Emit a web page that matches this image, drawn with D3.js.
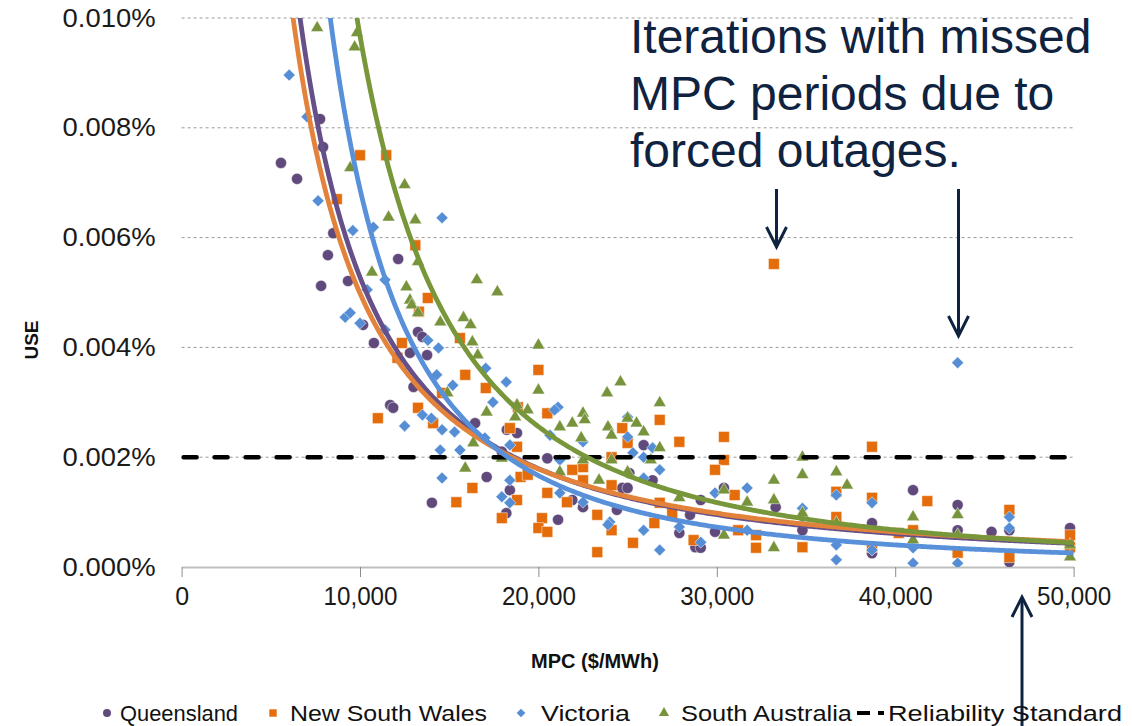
<!DOCTYPE html>
<html>
<head>
<meta charset="utf-8">
<script src="https://cdn.jsdelivr.net/npm/d3@7/dist/d3.min.js"></script>
<style>
  html, body { margin: 0; padding: 0; background: #ffffff; }
  svg { display: block; }
  text { font-family: Arial, "Liberation Sans", sans-serif; }
</style>
</head>
<body>
<svg id="chart" width="1132" height="726"></svg>
<script>
// MPC in $/MWh, USE in percent of energy
const qldMPC = [5570, 6470, 7760, 7930, 8500, 8200, 7820, 9330, 12140, 10170, 10780, 13250, 13500, 12800, 13760, 11690, 11860, 13000, 14030, 16450, 18230, 18800, 17100, 18400, 18200, 17950, 20500, 21100, 21900, 22500, 24700, 25000, 24400, 20500, 25900, 26400, 25100, 27900, 28800, 29100, 29100, 28500, 29900, 30400, 33300, 34800, 38700, 38700, 41000, 43500, 43500, 45400, 46400, 46400, 49800];
const qldUSE = [0.00736, 0.00707, 0.00816, 0.00765, 0.00608, 0.00568, 0.00512, 0.00521, 0.00561, 0.00441, 0.00408, 0.00428, 0.00419, 0.00390, 0.00386, 0.00295, 0.00290, 0.00328, 0.00117, 0.00262, 0.00250, 0.00244, 0.00164, 0.00140, 0.00098, 0.00210, 0.00198, 0.00086, 0.00122, 0.00109, 0.00144, 0.00144, 0.00104, 0.00280, 0.00222, 0.00158, 0.00171, 0.00062, 0.00036, 0.00035, 0.00122, 0.00095, 0.00064, 0.00144, 0.00109, 0.00067, 0.00080, 0.00025, 0.00140, 0.00113, 0.00067, 0.00064, 0.00067, 0.00009, 0.00071];

const nswMPC = [10000, 11470, 8700, 13100, 13800, 13300, 12350, 12100, 11000, 13250, 14100, 14600, 15600, 15900, 17050, 20000, 20500, 18850, 18400, 18800, 16300, 15400, 19000, 19400, 18800, 17950, 20200, 20000, 20500, 20500, 21600, 22500, 22500, 23300, 23300, 24100, 24100, 24100, 24700, 25000, 25300, 21900, 26800, 27900, 30400, 30400, 29900, 31000, 26800, 26500, 27500, 28700, 31200, 32200, 32200, 34800, 36700, 36700, 38700, 38700, 38700, 40200, 41000, 41800, 43500, 46400, 46400, 49800, 49800, 33200];
const nswUSE = [0.00750, 0.00750, 0.00670, 0.00586, 0.00490, 0.00465, 0.00408, 0.00381, 0.00271, 0.00290, 0.00262, 0.00317, 0.00417, 0.00350, 0.00326, 0.00359, 0.00280, 0.00291, 0.00253, 0.00219, 0.00144, 0.00118, 0.00164, 0.00168, 0.00122, 0.00089, 0.00089, 0.00071, 0.00064, 0.00135, 0.00118, 0.00182, 0.00158, 0.00095, 0.00027, 0.00149, 0.00067, 0.00200, 0.00253, 0.00226, 0.00044, 0.00177, 0.00268, 0.00228, 0.00237, 0.00195, 0.00177, 0.00131, 0.00117, 0.00080, 0.00098, 0.00049, 0.00067, 0.00058, 0.00035, 0.00036, 0.00137, 0.00091, 0.00219, 0.00126, 0.00036, 0.00062, 0.00067, 0.00120, 0.00026, 0.00104, 0.00018, 0.00058, 0.00036, 0.00552];

const vicMPC = [6030, 7030, 7650, 9600, 10750, 14600, 11400, 9170, 9450, 10000, 10400, 14400, 13800, 14300, 12500, 13500, 14000, 14600, 14500, 14600, 17050, 15200, 18200, 17450, 21100, 20900, 25000, 15300, 17000, 18400, 15600, 18400, 17950, 18400, 20650, 21200, 21200, 22500, 22500, 24000, 23900, 25000, 25300, 25900, 26400, 26800, 25900, 25900, 26800, 27900, 29100, 29900, 31700, 31700, 34800, 34800, 36700, 36700, 36700, 38700, 38700, 41000, 41000, 43500, 46400, 46400, 11400, 43500];
const vicUSE = [0.00896, 0.00820, 0.00667, 0.00613, 0.00619, 0.00636, 0.00523, 0.00455, 0.00463, 0.00444, 0.00505, 0.00399, 0.00413, 0.00350, 0.00257, 0.00277, 0.00271, 0.00250, 0.00213, 0.00162, 0.00362, 0.00331, 0.00337, 0.00300, 0.00291, 0.00286, 0.00273, 0.00246, 0.00235, 0.00222, 0.00213, 0.00158, 0.00128, 0.00117, 0.00240, 0.00195, 0.00135, 0.00118, 0.00228, 0.00082, 0.00077, 0.00237, 0.00208, 0.00200, 0.00217, 0.00177, 0.00162, 0.00067, 0.00031, 0.00073, 0.00045, 0.00135, 0.00144, 0.00067, 0.00107, 0.00091, 0.00131, 0.00040, 0.00013, 0.00117, 0.00031, 0.00035, 0.00007, 0.00007, 0.00091, 0.00071, 0.00432, 0.00372];

const saMPC = [7600, 9830, 9700, 9450, 12500, 11600, 13100, 10670, 12600, 12800, 12900, 13250, 13250, 14500, 16550, 17700, 15800, 16200, 16300, 16600, 20000, 20000, 17100, 18800, 19400, 22500, 23850, 24600, 14900, 22600, 21200, 21900, 23900, 25000, 25500, 25900, 16350, 15900, 17950, 18700, 22400, 24100, 24100, 22500, 23400, 21200, 25000, 26800, 26800, 26300, 27900, 30400, 30400, 31700, 33200, 33200, 33200, 34800, 34800, 34800, 36700, 37300, 36700, 41000, 41000, 43500, 43500, 49800, 49800];
const saUSE = [0.00982, 0.00973, 0.00947, 0.00727, 0.00696, 0.00637, 0.00632, 0.00537, 0.00510, 0.00486, 0.00477, 0.00463, 0.00556, 0.00446, 0.00523, 0.00501, 0.00454, 0.00441, 0.00410, 0.00386, 0.00404, 0.00322, 0.00282, 0.00295, 0.00286, 0.00280, 0.00317, 0.00337, 0.00317, 0.00268, 0.00255, 0.00262, 0.00255, 0.00271, 0.00262, 0.00246, 0.00226, 0.00180, 0.00198, 0.00273, 0.00235, 0.00240, 0.00195, 0.00195, 0.00158, 0.00173, 0.00173, 0.00299, 0.00217, 0.00195, 0.00126, 0.00140, 0.00058, 0.00118, 0.00158, 0.00122, 0.00035, 0.00200, 0.00168, 0.00098, 0.00173, 0.00149, 0.00080, 0.00091, 0.00049, 0.00095, 0.00058, 0.00018, 0.00040];

// Power trendline per region: USE = coef * (MPC / 1000) ^ exp
const trendCoef = [0.1913, 0.1509, 0.769, 0.805];
const trendExp = [-1.559, -1.481, -2.048, -1.92];

const reliabilityStandard = 0.002;

const seriesNames = ["Queensland", "New South Wales", "Victoria", "South Australia"];
const xTicks = [0, 10000, 20000, 30000, 40000, 50000];
const yTicks = [0, 0.002, 0.004, 0.006, 0.008, 0.010];
const noteLines = ["Iterations with missed", "MPC periods due to", "forced outages."];

const markerColors = ["#604A7B", "#E46C0A", "#558ED5", "#77933C"];
const trendColors = ["#65508A", "#E3823A", "#5891DA", "#78973A"];
const navy = "#0F2340";

// marker shapes: circle, square, diamond (square turned 45°), triangle
const markerShape = [
  { type: d3.symbolCircle, size: 98, rot: 0 },
  { type: d3.symbolSquare, size: 118, rot: 0 },
  { type: d3.symbolSquare, size: 72, rot: 45 },
  { type: d3.symbolTriangle, size: 72, rot: 0 }
];

const svg = d3.select("#chart");
const plotLeft = 181.6, plotRight = 1073.6, plotTop = 18, plotBottom = 567;

const x = d3.scaleLinear().domain([0, 50000]).range([plotLeft, plotRight]);
const y = d3.scaleLinear().domain([0, 0.010]).range([plotBottom, plotTop]);

svg.append("defs").append("clipPath").attr("id", "plotClip")
  .append("rect").attr("x", plotLeft - 10).attr("y", plotTop)
  .attr("width", plotRight - plotLeft + 20).attr("height", plotBottom - plotTop);

// horizontal gridlines
svg.append("g")
  .selectAll("line").data(yTicks.filter(v => v > 0)).join("line")
  .attr("x1", plotLeft).attr("x2", plotRight)
  .attr("y1", d => y(d)).attr("y2", d => y(d))
  .attr("stroke", "#9a9a9a").attr("stroke-width", 1).attr("stroke-dasharray", "3,3");

// x axis
const xAxis = svg.append("g").attr("transform", `translate(0,${plotBottom})`)
  .call(d3.axisBottom(x).tickValues(xTicks).tickFormat(d3.format(",")).tickSize(10).tickSizeOuter(0));
xAxis.select(".domain").attr("stroke", "#bfbfbf").attr("stroke-width", 2);
xAxis.selectAll(".tick line").attr("stroke", "#8c8c8c").attr("stroke-width", 1);
xAxis.selectAll(".tick text").attr("font-size", 25).attr("fill", "#1a1a1a").attr("dy", "1.0em")
  .attr("font-family", "Arial, 'Liberation Sans', sans-serif")
  .each(function (d) {
    if (d > 0) d3.select(this).attr("textLength", 74).attr("lengthAdjust", "spacingAndGlyphs");
  });

// y axis labels
const yAxis = svg.append("g").attr("transform", `translate(${plotLeft},0)`)
  .call(d3.axisLeft(y).tickValues(yTicks).tickFormat(d => d3.format(".3f")(d) + "%").tickSize(0).tickPadding(26));
yAxis.select(".domain").remove();
yAxis.selectAll(".tick text").attr("font-size", 25).attr("fill", "#1a1a1a")
  .attr("font-family", "Arial, 'Liberation Sans', sans-serif")
  .attr("textLength", 93).attr("lengthAdjust", "spacingAndGlyphs");

// axis titles
svg.append("text").attr("x", 595).attr("y", 668).attr("text-anchor", "middle")
  .attr("font-size", 20).attr("font-weight", "bold").attr("fill", "#111").text("MPC ($/MWh)");
svg.append("text").attr("transform", "translate(38,340) rotate(-90)").attr("text-anchor", "middle")
  .attr("font-size", 19).attr("font-weight", "bold").attr("fill", "#111").text("USE");

// scatter markers
const mpcSets = [qldMPC, nswMPC, vicMPC, saMPC];
const useSets = [qldUSE, nswUSE, vicUSE, saUSE];
mpcSets.forEach((mpc, i) => {
  const pts = mpc.map((m, j) => ({ m, u: useSets[i][j] }));
  const shp = markerShape[i];
  svg.append("g").attr("clip-path", "url(#plotClip)")
    .selectAll("path").data(pts).join("path")
    .attr("d", d3.symbol().type(shp.type).size(shp.size))
    .attr("transform", d => `translate(${x(d.m)},${y(d.u)}) rotate(${shp.rot})`)
    .attr("fill", markerColors[i])
    .attr("stroke", "#ffffff").attr("stroke-opacity", 0.6).attr("stroke-width", 0.8);
});

// reliability standard
svg.append("line")
  .attr("x1", plotLeft + 2).attr("x2", plotRight)
  .attr("y1", y(reliabilityStandard)).attr("y2", y(reliabilityStandard))
  .attr("stroke", "#000").attr("stroke-width", 4.5)
  .attr("stroke-dasharray", "13,18").attr("stroke-linecap", "round");

// trendlines
const mpcSamples = d3.range(4000, 50001, 100);
trendCoef.forEach((a, i) => {
  const pts = mpcSamples.map(m => [m, a * Math.pow(m / 1000, trendExp[i])]).filter(p => p[1] < 0.0108);
  svg.append("path").attr("clip-path", "url(#plotClip)")
    .datum(pts)
    .attr("d", d3.line().x(p => x(p[0])).y(p => y(p[1])))
    .attr("fill", "none").attr("stroke", trendColors[i]).attr("stroke-width", 4.8);
});

// annotation
const note = svg.append("text").attr("font-size", 48).attr("fill", navy);
noteLines.forEach((t, i) => {
  note.append("tspan").attr("x", 630).attr("y", 53 + i * 57).text(t);
});

function arrow(xp, y0, y1) {
  const dir = y1 > y0 ? 1 : -1;
  svg.append("line").attr("x1", xp).attr("x2", xp).attr("y1", y0).attr("y2", y1 - dir * 2)
    .attr("stroke", navy).attr("stroke-width", 3);
  svg.append("path")
    .attr("d", `M${xp - 10},${y1 - dir * 20} L${xp},${y1} L${xp + 10},${y1 - dir * 20}`)
    .attr("fill", "none").attr("stroke", navy).attr("stroke-width", 3).attr("stroke-linejoin", "miter");
}
arrow(776.5, 189, 247);
arrow(958.5, 189, 336);
arrow(1022, 726, 597);

// legend
const legendY = 713;
const legendItems = [
  { mx: 107, tx: 120, w: 118 },
  { mx: 273, tx: 290, w: 197 },
  { mx: 521, tx: 541, w: 89 },
  { mx: 664, tx: 681, w: 171 }
];
const legendSizes = [50, 55, 38, 45];
legendItems.forEach((it, i) => {
  svg.append("path")
    .attr("d", d3.symbol().type(markerShape[i].type).size(legendSizes[i]))
    .attr("transform", `translate(${it.mx},${legendY}) rotate(${markerShape[i].rot})`)
    .attr("fill", markerColors[i]);
  svg.append("text").attr("x", it.tx).attr("y", legendY + 8).attr("font-size", 22).attr("fill", "#111")
    .attr("textLength", it.w).attr("lengthAdjust", "spacingAndGlyphs")
    .text(seriesNames[i]);
});
svg.append("line").attr("x1", 857).attr("x2", 884).attr("y1", legendY).attr("y2", legendY)
  .attr("stroke", "#000").attr("stroke-width", 4).attr("stroke-dasharray", "13,8");
svg.append("text").attr("x", 888).attr("y", legendY + 8).attr("font-size", 22).attr("fill", "#111")
  .attr("textLength", 234).attr("lengthAdjust", "spacingAndGlyphs")
  .text("Reliability Standard");
</script>
</body>
</html>
